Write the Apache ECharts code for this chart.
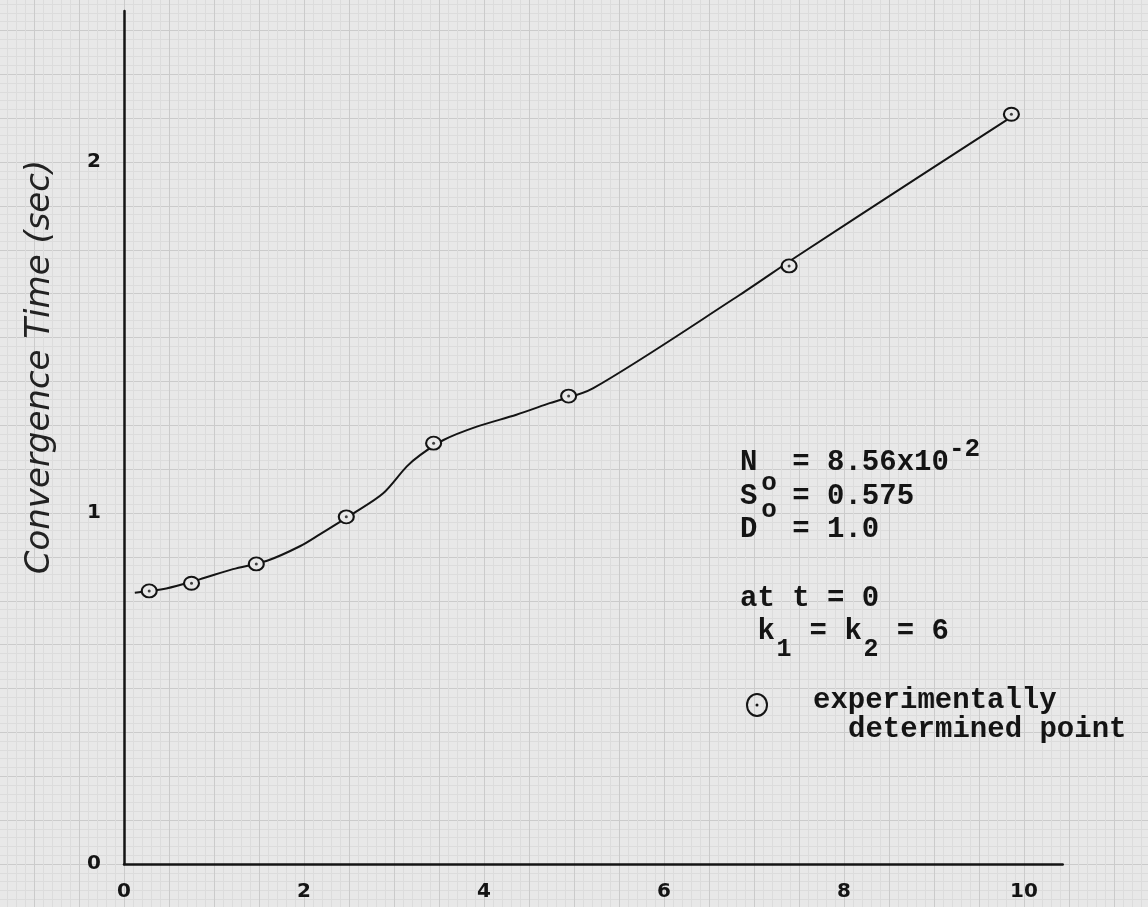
<!DOCTYPE html>
<html>
<head>
<meta charset="utf-8">
<script src="https://cdn.jsdelivr.net/npm/echarts@6.0.0/dist/echarts.min.js"></script>
<style>
  html, body { margin: 0; padding: 0; background: #e8e8e8; }
  #chart { width: 1148px; height: 907px; }
</style>
</head>
<body>
<div id="chart"></div>
<script>
// Experimentally determined convergence times
const pointX = [0.28, 0.75, 1.47, 2.47, 3.44, 4.94, 7.39, 9.86];
const pointY = [0.778, 0.800, 0.855, 0.989, 1.199, 1.333, 1.704, 2.136];

// Faired curve drawn through the measured points
const curveX = [0.12, 0.47, 0.84, 1.21, 1.59, 1.96, 2.18, 2.55, 2.88, 3.14, 3.29, 3.55, 3.92, 4.36, 4.73, 5.21, 6.84, 7.47, 8.81, 9.81];
const curveY = [0.773, 0.785, 0.811, 0.840, 0.864, 0.906, 0.940, 0.999, 1.056, 1.132, 1.165, 1.208, 1.246, 1.280, 1.313, 1.355, 1.621, 1.730, 1.954, 2.120];

// Axis tick labels
const xTickLabels = ['0', '2', '4', '6', '8', '10'];
const yTickLabels = ['0', '1', '2'];

// Axis extents
const xMin = 0, xMax = 10.43, xStep = 2;
const yMin = 0, yMax = 2.43, yStep = 1;

// Plot geometry (pixels per data unit)
const PX_X = 90, PX_Y = 351;
const ORIGIN_LEFT = 124, ORIGIN_BOTTOM = 43;

const INK = '#141414';
const PAPER = '#e8e8e8';
const MONO = '"Liberation Mono", "DejaVu Sans Mono", monospace';

// Graph-paper ruling: 0.5 units across, 0.125 units up, five minor divisions each
const paperXMin = -1.5, paperXMax = 12, paperXStep = 0.5;
const paperYMin = -0.25, paperYMax = 2.625, paperYStep = 0.125;

const chart = echarts.init(document.getElementById('chart'), null, { renderer: 'canvas' });

const pairs = (xs, ys) => xs.map((x, i) => [x, ys[i]]);

// Label only the exact tick multiples, never the axis end
function tickFormatter(labels, step) {
  return v => {
    const k = v / step;
    return Math.abs(k - Math.round(k)) < 1e-6 ? (labels[Math.round(k)] || '') : '';
  };
}

function monoText(x, y, text, size, align) {
  return {
    type: 'text', x: x, y: y, z: 20,
    style: {
      text: text, fill: INK, fontFamily: MONO, fontWeight: 'bold',
      fontSize: size, align: align || 'left', verticalAlign: 'middle'
    }
  };
}

const paperMajor = { show: true, lineStyle: { color: '#cbcbcb', width: 1 } };
const paperMinor = { show: true, lineStyle: { color: '#dcdcdc', width: 1 } };

const option = {
  backgroundColor: PAPER,
  animation: false,
  grid: [
    {
      left: ORIGIN_LEFT, bottom: ORIGIN_BOTTOM,
      width: (xMax - xMin) * PX_X, height: (yMax - yMin) * PX_Y,
      containLabel: false, outerBoundsMode: 'none'
    },
    {
      left: ORIGIN_LEFT + paperXMin * PX_X,
      bottom: ORIGIN_BOTTOM + paperYMin * PX_Y,
      width: (paperXMax - paperXMin) * PX_X,
      height: (paperYMax - paperYMin) * PX_Y,
      containLabel: false, outerBoundsMode: 'none'
    }
  ],
  xAxis: [
    {
      type: 'value', gridIndex: 0, min: xMin, max: xMax, interval: xStep, z: 5,
      axisLine: { show: true, onZero: false, lineStyle: { color: INK, width: 2.5 } },
      axisTick: { show: false },
      splitLine: { show: false },
      axisLabel: {
        show: true, margin: 18, color: INK, fontSize: 20, fontWeight: 'bold',
        fontFamily: '"DejaVu Sans", sans-serif', showMaxLabel: false,
        formatter: tickFormatter(xTickLabels, xStep)
      }
    },
    {
      type: 'value', gridIndex: 1, min: paperXMin, max: paperXMax, interval: paperXStep, z: 0,
      axisLine: { show: false }, axisTick: { show: false }, axisLabel: { show: false },
      splitLine: paperMajor,
      minorTick: { show: false, splitNumber: 5 },
      minorSplitLine: paperMinor
    }
  ],
  yAxis: [
    {
      type: 'value', gridIndex: 0, min: yMin, max: yMax, interval: yStep, z: 5,
      axisLine: { show: true, onZero: false, lineStyle: { color: INK, width: 2.5 } },
      axisTick: { show: false },
      splitLine: { show: false },
      axisLabel: {
        show: true, margin: 23, color: INK, fontSize: 20, fontWeight: 'bold',
        fontFamily: '"DejaVu Sans", sans-serif', showMaxLabel: false,
        formatter: tickFormatter(yTickLabels, yStep)
      }
    },
    {
      type: 'value', gridIndex: 1, min: paperYMin, max: paperYMax, interval: paperYStep, z: 0,
      axisLine: { show: false }, axisTick: { show: false }, axisLabel: { show: false },
      splitLine: paperMajor,
      minorTick: { show: false, splitNumber: 5 },
      minorSplitLine: paperMinor
    }
  ],
  series: [
    {
      name: 'curve', type: 'line', xAxisIndex: 0, yAxisIndex: 0,
      data: pairs(curveX, curveY), smooth: 0.3, symbol: 'none',
      lineStyle: { color: INK, width: 2 }, z: 3, silent: true
    },
    {
      name: 'experimentally determined point', type: 'scatter', xAxisIndex: 0, yAxisIndex: 0,
      data: pairs(pointX, pointY), symbol: 'circle', symbolSize: [15, 13],
      itemStyle: { color: PAPER, borderColor: INK, borderWidth: 2, opacity: 1 }, z: 4
    },
    {
      name: 'point centre', type: 'scatter', xAxisIndex: 0, yAxisIndex: 0,
      data: pairs(pointX, pointY), symbol: 'circle', symbolSize: 3,
      itemStyle: { color: INK }, z: 5, silent: true
    }
  ],
  graphic: [
    {
      type: 'text', x: 40, y: 367, rotation: Math.PI / 2, z: 20,
      style: {
        text: 'Convergence Time (sec)', fill: '#222',
        fontFamily: '"DejaVu Sans", sans-serif', fontStyle: 'italic', fontSize: 34,
        align: 'center', verticalAlign: 'middle'
      }
    },
    // Parameter block
    monoText(740, 463, 'N  = 8.56x10', 29),
    monoText(949, 449, '-2', 26),
    monoText(769, 483, 'o', 26, 'center'),
    monoText(740, 497, 'S  = 0.575', 29),
    monoText(769, 510, 'o', 26, 'center'),
    monoText(740, 530, 'D  = 1.0', 29),
    monoText(740, 599, 'at t = 0', 29),
    monoText(740, 632, ' k  = k  = 6', 29),
    monoText(784, 650, '1', 25, 'center'),
    monoText(871, 650, '2', 25, 'center'),
    // Key for the plotted symbol
    {
      type: 'ellipse', z: 20,
      shape: { cx: 757, cy: 705, rx: 10, ry: 11 },
      style: { fill: 'none', stroke: INK, lineWidth: 2 }
    },
    {
      type: 'circle', z: 20,
      shape: { cx: 757, cy: 705, r: 1.5 },
      style: { fill: INK }
    },
    monoText(813, 701, 'experimentally', 29),
    monoText(848, 730, 'determined point', 29)
  ]
};

chart.setOption(option);
</script>
</body>
</html>
